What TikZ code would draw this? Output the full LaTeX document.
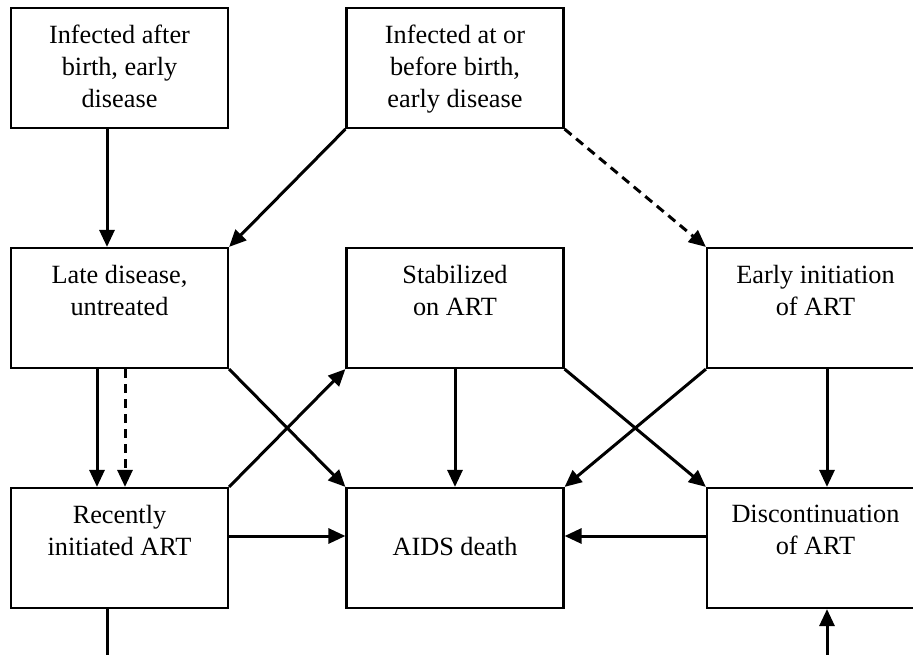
\documentclass[tikz,border=0pt]{standalone}
\usepackage{fontspec}
\setmainfont{Liberation Serif}
\usetikzlibrary{arrows.meta,calc}
\begin{document}
\begin{tikzpicture}[x=1pt,y=-1pt,
 box/.style={draw,line width=2.2pt,minimum width=217pt,minimum height=120pt,inner sep=0pt},
 txt/.style={align=center,font=\fontsize{26.3}{31.8}\selectfont,inner sep=0pt,anchor=north},
 arr/.style={line width=3pt,-{Triangle[length=17pt,width=15pt]}},
 dsh/.style={arr,dash pattern=on 9pt off 6pt},
 plainline/.style={line width=3pt}]
\useasboundingbox (0,0) rectangle (913,654);
\clip (0,0) rectangle (913,654);
% boxes
\node[box] (A) at (119.5,68) {};
\node[box] (B) at (455,68) {};
\node[box] (C) at (119.5,308) {};
\node[box] (D) at (455,308) {};
\node[box] (E) at (815.5,308) {};
\node[box] (F) at (119.5,548) {};
\node[box] (G) at (455,548) {};
\node[box] (H) at (815.5,548) {};
% texts
\node[txt] (At) at (119.5,25) {Infected after\\birth, early\\disease};
\node[txt] (Bt) at (455,25) {Infected at or\\before birth,\\early disease};
\node[txt] (Ct) at (119.5,265) {Late disease,\\untreated};
\node[txt] (Dt) at (455,265) {Stabilized\\on ART};
\node[txt] (Et) at (815.5,265) {Early initiation\\of ART};
\node[txt] (Ft) at (119.5,505) {Recently\\initiated ART};
\node[txt,anchor=base] (Gt) at (455,555) {AIDS death};
\node[txt] (Ht) at (815.5,505) {Discontinuation\\of ART};
% helper coordinates
\coordinate (xa) at (107,0);
\coordinate (xc1) at (97,0);
\coordinate (xc2) at (125,0);
\coordinate (xe) at (827,0);
\coordinate (yrow) at (0,536);
\coordinate (fb) at (107,665);
\coordinate (hb) at (827,665);
% connectors
\draw[arr] (A.south -| xa) -- (C.north -| xa);
\draw[arr] (B.south west) -- (C.north east);
\draw[dsh] (B.south east) -- (E.north west);
\draw[arr] (C.south -| xc1) -- (F.north -| xc1);
\draw[dsh] (C.south -| xc2) -- (F.north -| xc2);
\draw[arr] (C.south east) -- (G.north west);
\draw[arr] (F.north east) -- (D.south west);
\draw[arr] (F.east |- yrow) -- (G.west |- yrow);
\draw[arr] (D.south) -- (G.north);
\draw[arr] (D.south east) -- (H.north west);
\draw[arr] (E.south west) -- (G.north east);
\draw[arr] (E.south -| xe) -- (H.north -| xe);
\draw[arr] (H.west |- yrow) -- (G.east |- yrow);
\draw[plainline] (F.south -| xa) -- (fb);
\draw[arr] (hb) -- (H.south -| xe);
\end{tikzpicture}
\end{document}
